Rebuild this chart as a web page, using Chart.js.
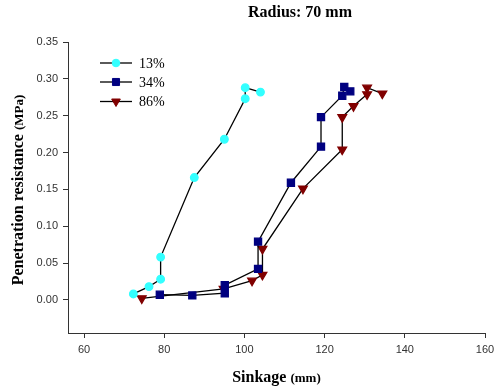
<!DOCTYPE html>
<html>
<head>
<meta charset="utf-8">
<script src="https://cdn.jsdelivr.net/npm/chart.js@4"></script>
<style>
  html, body { margin: 0; padding: 0; background: #fff; }
  #wrap { width: 500px; height: 392px; }
</style>
</head>
<body>
<div id="wrap"><canvas id="chart" width="500" height="392"></canvas></div>
<script>
const seriesNames = ['13%', '34%', '86%'];

const sink13 = [72.3, 76.2, 79.1, 79.1, 87.5, 95.0, 100.2, 100.2, 104.0];
const res13 = [0.008, 0.018, 0.028, 0.058, 0.166, 0.218, 0.273, 0.288, 0.282];

const sink34 = [78.9, 87.0, 95.1, 95.1, 103.4, 103.4, 111.6, 119.1, 119.1, 124.4, 124.9, 126.4];
const res34 = [0.007, 0.006, 0.009, 0.020, 0.042, 0.079, 0.159, 0.208, 0.248, 0.277, 0.289, 0.283];

const sink86 = [74.4, 94.8, 101.9, 104.5, 104.5, 114.6, 124.4, 124.4, 127.2, 130.6, 130.6, 134.4];
const res86 = [0.002, 0.015, 0.026, 0.034, 0.069, 0.151, 0.204, 0.248, 0.263, 0.279, 0.288, 0.280];

const xTicks = [60, 80, 100, 120, 140, 160];
const yTicks = [0, 0.05, 0.10, 0.15, 0.20, 0.25, 0.30, 0.35];

function pairs(xs, ys) {
  return xs.map((x, i) => ({ x: x, y: ys[i] }));
}

const serif = '"Liberation Serif", "Times New Roman", serif';

// title, axis titles and legend drawn on the canvas
const extraText = {
  id: 'extraText',
  afterDraw(chart) {
    const ctx = chart.ctx;
    const area = chart.chartArea;
    ctx.save();
    ctx.fillStyle = '#000';
    ctx.textBaseline = 'alphabetic';

    ctx.font = 'bold 16px ' + serif;
    ctx.textAlign = 'center';
    ctx.fillText('Radius: 70 mm', 300, 17);

    // x title
    ctx.textAlign = 'left';
    const a = 'Sinkage ';
    ctx.font = 'bold 13px ' + serif;
    const bw = ctx.measureText('(mm)').width;
    ctx.font = 'bold 16px ' + serif;
    const aw = ctx.measureText(a).width;
    let x0 = (area.left + area.right) / 2 - (aw + bw) / 2;
    ctx.fillText(a, x0, 382);
    ctx.font = 'bold 13px ' + serif;
    ctx.fillText('(mm)', x0 + aw, 382);

    // y title
    ctx.translate(23, 190);
    ctx.rotate(-Math.PI / 2);
    const c = 'Penetration resistance ';
    ctx.font = 'bold 16px ' + serif;
    const cw = ctx.measureText(c).width;
    ctx.font = 'bold 13px ' + serif;
    const dw = ctx.measureText('(MPa)').width;
    x0 = -(cw + dw) / 2;
    ctx.font = 'bold 16px ' + serif;
    ctx.fillText(c, x0, 0);
    ctx.font = 'bold 13px ' + serif;
    ctx.fillText('(MPa)', x0 + cw, 0);
    ctx.setTransform(1, 0, 0, 1, 0, 0);

    // legend
    const rows = [63, 82, 101.5];
    chart.data.datasets.forEach((ds, i) => {
      const y = rows[i];
      ctx.strokeStyle = '#000';
      ctx.lineWidth = 1.3;
      ctx.beginPath();
      ctx.moveTo(100, y);
      ctx.lineTo(132, y);
      ctx.stroke();
      ctx.fillStyle = ds.pointBackgroundColor;
      ctx.strokeStyle = ds.pointBorderColor;
      ctx.lineWidth = 1;
      Chart.helpers.drawPoint(ctx, {
        pointStyle: ds.pointStyle,
        rotation: ds.pointRotation || 0,
        radius: ds.pointRadius,
        borderWidth: 1
      }, 116, y);
      ctx.fillStyle = '#000';
      ctx.font = '14px ' + serif;
      ctx.textAlign = 'left';
      ctx.textBaseline = 'middle';
      ctx.fillText(ds.label, 139, y + 1);
    });
    ctx.restore();
  }
};

new Chart(document.getElementById('chart'), {
  type: 'scatter',
  data: {
    datasets: [
      {
        label: seriesNames[0],
        data: pairs(sink13, res13),
        showLine: true,
        borderColor: '#000',
        borderWidth: 1.3,
        pointStyle: 'circle',
        pointRadius: 3.8,
        pointBackgroundColor: '#33ffff',
        pointBorderColor: '#33ffff'
      },
      {
        label: seriesNames[1],
        data: pairs(sink34, res34),
        showLine: true,
        borderColor: '#000',
        borderWidth: 1.3,
        pointStyle: 'rect',
        pointRadius: 5,
        pointBackgroundColor: '#000080',
        pointBorderColor: '#000080'
      },
      {
        label: seriesNames[2],
        data: pairs(sink86, res86),
        showLine: true,
        borderColor: '#000',
        borderWidth: 1.3,
        pointStyle: 'triangle',
        pointRotation: 180,
        pointRadius: 5,
        pointBackgroundColor: '#800000',
        pointBorderColor: '#800000'
      }
    ]
  },
  options: {
    responsive: false,
    animation: false,
    layout: { padding: { left: 0, right: 15, top: 42, bottom: 0 } },
    plugins: {
      legend: { display: false },
      tooltip: { enabled: false }
    },
    scales: {
      x: {
        type: 'linear',
        min: 56,
        max: 160,
        afterBuildTicks: s => { s.ticks = xTicks.map(v => ({ value: v })); },
        afterFit: s => { s.height = 59; },
        grid: { drawOnChartArea: false, drawTicks: true, tickLength: 5, color: '#333' },
        border: { display: true, color: '#333', width: 1 },
        ticks: {
          padding: 5,
          color: '#333',
          font: { family: '"Liberation Sans", Arial, sans-serif', size: 11 },
          callback: v => String(v)
        }
      },
      y: {
        type: 'linear',
        min: -0.045,
        max: 0.35,
        afterBuildTicks: s => { s.ticks = yTicks.map(v => ({ value: v })); },
        afterFit: s => { s.width = 68; },
        grid: { drawOnChartArea: false, drawTicks: true, tickLength: 5, color: '#333' },
        border: { display: true, color: '#333', width: 1 },
        ticks: {
          padding: 5,
          color: '#333',
          font: { family: '"Liberation Sans", Arial, sans-serif', size: 11 },
          callback: v => v.toFixed(2)
        }
      }
    }
  },
  plugins: [extraText]
});
</script>
</body>
</html>
